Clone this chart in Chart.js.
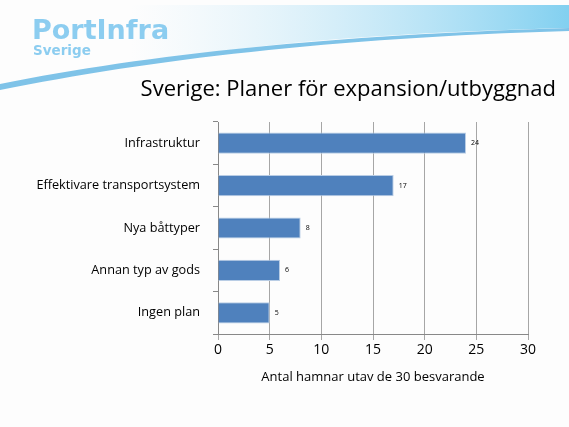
<!DOCTYPE html>
<html>
<head>
<meta charset="utf-8">
<script src="https://cdn.jsdelivr.net/npm/chart.js@4"></script>
<style>
  html, body { margin: 0; padding: 0; background: #fdfdfd; }
  #wrap { width: 569px; height: 427px; position: relative; }
</style>
</head>
<body>
<div id="wrap"><canvas id="chart"></canvas></div>
<script>
// data
var categories = ['Infrastruktur', 'Effektivare transportsystem', 'Nya båttyper', 'Annan typ av gods', 'Ingen plan'];
var values = [24, 17, 8, 6, 5];
var xTicks = [0, 5, 10, 15, 20, 25, 30];

// slide background: logo, swoosh, title
var slidePlugin = {
    id: 'slide',
    beforeDraw: function(chart) {
        var ctx = chart.ctx;
        ctx.save();
        ctx.fillStyle = '#fdfdfd';
        ctx.fillRect(0, 0, chart.width, chart.height);

        // gradient band above the swoosh
        var g = ctx.createLinearGradient(130, 0, 569, 0);
        g.addColorStop(0, 'rgba(200,232,248,0)');
        g.addColorStop(1, 'rgba(130,208,240,1)');
        ctx.beginPath();
        ctx.moveTo(130, 5);
        ctx.lineTo(569, 5);
        ctx.lineTo(569, 28);
        ctx.bezierCurveTo(420, 32, 260, 40, 130, 66);
        ctx.closePath();
        ctx.fillStyle = g;
        ctx.fill();

        // swoosh line
        ctx.beginPath();
        ctx.moveTo(0, 84);
        ctx.bezierCurveTo(150, 54, 330, 35, 569, 28);
        ctx.lineTo(569, 31);
        ctx.bezierCurveTo(330, 38, 150, 60, 0, 90);
        ctx.closePath();
        ctx.fillStyle = '#7fc3e8';
        ctx.fill();

        // logo
        ctx.fillStyle = '#8ccdf0';
        ctx.font = 'bold 27px "DejaVu Sans"';
        ctx.textBaseline = 'alphabetic';
        ctx.fillText('PortInfra', 32, 39);
        ctx.font = 'bold 13.5px "DejaVu Sans"';
        ctx.fillText('Sverige', 33, 55);

        // title
        ctx.fillStyle = '#000';
        ctx.font = '22px "Open Sans"';
        ctx.textAlign = 'right';
        ctx.fillText('Sverige: Planer för expansion/utbyggnad', 556, 96);
        ctx.restore();
    }
};

// value labels at bar ends
var valueLabels = {
    id: 'valueLabels',
    afterDatasetsDraw: function(chart) {
        var ctx = chart.ctx;
        var meta = chart.getDatasetMeta(0);
        ctx.save();
        ctx.fillStyle = '#000';
        ctx.font = '7px "Open Sans"';
        ctx.textBaseline = 'middle';
        meta.data.forEach(function(bar, i) {
            ctx.fillText(values[i], bar.x + 5, bar.y);
        });
        ctx.restore();
    }
};

new Chart(document.getElementById('chart'), {
    type: 'bar',
    data: {
        labels: categories,
        datasets: [{
            data: values,
            backgroundColor: '#4f81bd',
            borderColor: '#b9cde5',
            borderWidth: 1,
            barPercentage: 0.5,
            categoryPercentage: 1
        }]
    },
    options: {
        indexAxis: 'y',
        responsive: true,
        maintainAspectRatio: false,
        animation: false,
        events: [],
        layout: { padding: { top: 122, right: 41, bottom: 42, left: 0 } },
        plugins: { legend: { display: false }, tooltip: { enabled: false } },
        scales: {
            x: {
                min: 0,
                max: 30,
                afterBuildTicks: function(scale) {
                    scale.ticks = xTicks.map(function(v) { return { value: v }; });
                },
                afterFit: function(scale) { scale.height = 51; },
                grid: { color: '#a6a6a6', tickLength: 6, lineWidth: 1 },
                border: { color: '#888' },
                ticks: { color: '#000', font: { family: 'Open Sans', size: 14 }, padding: 2, maxRotation: 0 },
                title: {
                    display: true,
                    text: 'Antal hamnar utav de 30 besvarande',
                    color: '#000',
                    font: { family: 'Open Sans', size: 13 },
                    padding: { top: 0, bottom: 0 }
                }
            },
            y: {
                afterFit: function(scale) { scale.width = 218; },
                grid: { offset: true, drawOnChartArea: false, tickLength: 5, color: '#888' },
                border: { color: '#888' },
                ticks: { color: '#000', font: { family: 'Open Sans', size: 12.7 }, padding: 13 }
            }
        }
    },
    plugins: [slidePlugin, valueLabels]
});
</script>
</body>
</html>
